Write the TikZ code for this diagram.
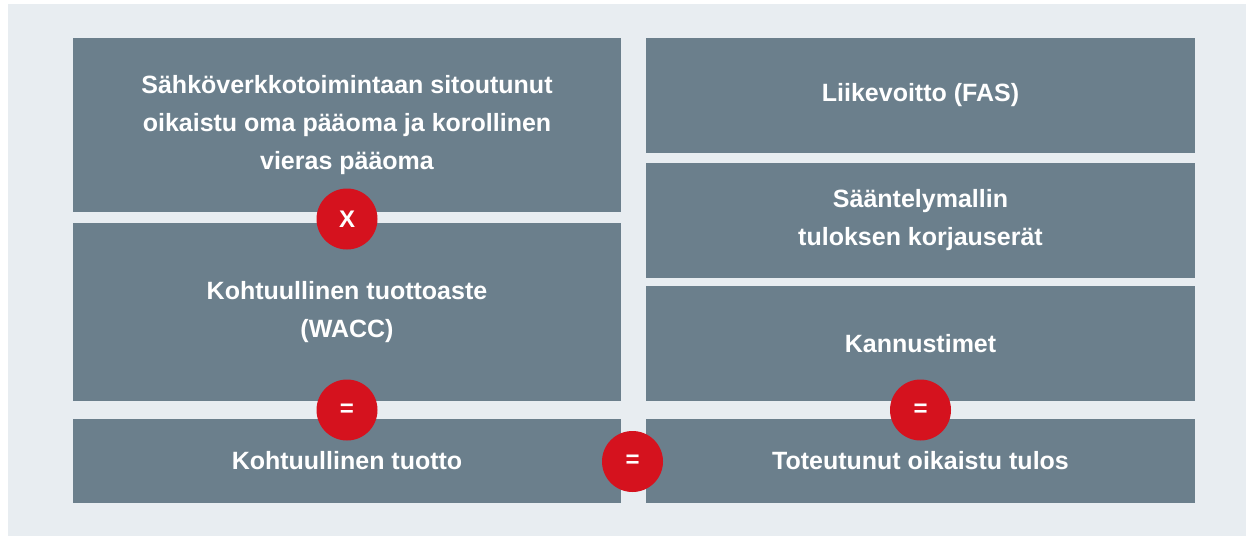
\documentclass[tikz,border=0pt]{standalone}
\usepackage{fontspec}
\setmainfont{Liberation Sans}
\usepackage{tikz}
\usepackage{xcolor}
\definecolor{wpanel}{HTML}{e8edf1}
\definecolor{wbox}{HTML}{6b7f8c}
\definecolor{wred}{HTML}{d5121e}

\begin{document}
\begin{tikzpicture}[x=1pt, y=-1pt,
  box/.style={fill=wbox, text=white, inner sep=0pt, outer sep=0pt, align=center,
    font=\fontsize{25}{38}\selectfont\bfseries},
  badge/.style={circle, fill=wred, text=white, inner sep=0pt, minimum size=61pt,
    font=\fontsize{24}{24}\selectfont\bfseries}]
  \useasboundingbox (0,0) rectangle (1246,536);
  \fill[wpanel] (8,4) rectangle (1246,536);

  % left column
  \node[box, minimum width=548pt, minimum height=174pt] at (347,125)(capital){%
    Sähköverkkotoimintaan sitoutunut\\oikaistu oma pääoma ja korollinen\\vieras pääoma};
  \node[box, minimum width=548pt, minimum height=178pt] at (347,312)(wacc){%
    Kohtuullinen tuottoaste\\(WACC)};
  \node[box, minimum width=548pt, minimum height=84pt] at (347,461)(fair){%
    Kohtuullinen tuotto};

  % right column
  \node[box, minimum width=549pt, minimum height=115pt] at (920.5,95.5)(ebit){%
    Liikevoitto (FAS)};
  \node[box, minimum width=549pt, minimum height=115pt] at (920.5,220.5)(adjust){%
    Sääntelymallin\\tuloksen korjauserät};
  \node[box, minimum width=549pt, minimum height=115pt] at (920.5,343.5)(incent){%
    Kannustimet};
  \node[box, minimum width=549pt, minimum height=84pt] at (920.5,461)(actual){%
    Toteutunut oikaistu tulos};

  % operators
  \node[badge] at (347,219)(times){X};
  \node[badge] at (347,410)(eqleft){=};
  \node[badge] at (920.5,410)(eqright){=};
  \node[badge] at (632.5,461.5)(eqmid){=};

\end{tikzpicture}
\end{document}
